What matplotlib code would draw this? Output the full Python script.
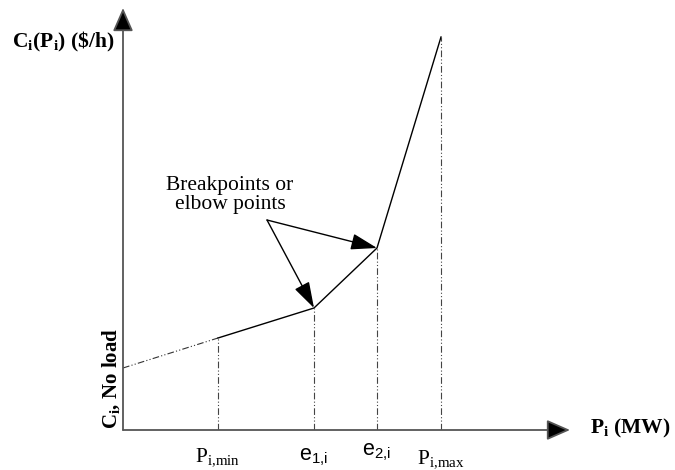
import matplotlib.pyplot as plt

plt.rcParams['mathtext.fontset'] = 'custom'
plt.rcParams['mathtext.rm'] = 'Liberation Serif'
plt.rcParams['mathtext.bf'] = 'Liberation Serif:bold'
plt.rcParams['mathtext.sf'] = 'Liberation Sans'

# Break points along the cost curve (arbitrary units)
p_noload = 0
p_min = 95
e1 = 191
e2 = 254
p_max = 318

c_noload = 62
c_min = 92
c_e1 = 122
c_e2 = 182
c_max = 393

curve_x = [p_min, e1, e2, p_max]
curve_y = [c_min, c_e1, c_e2, c_max]

tick_x = [p_min, e1, e2, p_max]
tick_labels = [r'P$_{\mathrm{i{,}min}}$', r'$\mathsf{e}_{\mathsf{1{,}i}}$',
               r'$\mathsf{e}_{\mathsf{2{,}i}}$', r'P$_{\mathrm{i{,}max}}$']
tick_offset = [-28, -27, -22, -30]

fig = plt.figure(figsize=(6.75, 4.7), dpi=100)
ax = fig.add_axes([123 / 675, 40 / 470, 447 / 675, 422 / 470])
ax.set_xlim(0, 447)
ax.set_ylim(0, 422)
ax.axis('off')

# axes with arrow heads
for tip in [(1, 0), (0, 1)]:
    ax.annotate('', xy=tip, xytext=(0, 0), xycoords='axes fraction',
                arrowprops=dict(arrowstyle='-|>,head_length=0.8,head_width=0.35',
                                lw=1.3, mutation_scale=18, fc='black',
                                ec='#555555', shrinkA=0, shrinkB=0))

# extrapolated part down to no-load cost
ax.plot([p_noload, p_min], [c_noload, c_min], color='#333333', lw=0.8,
        linestyle=(0, (6, 2, 1, 2, 1, 2)))
ax.plot(curve_x, curve_y, color='black', lw=1)

# vertical guide lines
for x, y in zip(curve_x, curve_y):
    ax.plot([x, x], [0, y], color='#444444', lw=0.8,
            linestyle=(0, (6, 2, 1, 2, 1, 2)))

for x, lab, off in zip(tick_x, tick_labels, tick_offset):
    ax.text(x, off, lab, ha='center', va='center', fontsize=15.5,
            family='Liberation Serif')

ax.text(467, 2, r'P$_\mathbf{i}$ (MW)', ha='left', va='center', fontsize=15.5,
        family='Liberation Serif', fontweight='bold')
ax.text(-111, 388, r'C$_\mathbf{i}$(P$_\mathbf{i}$) (\$/h)', ha='left',
        va='center', fontsize=15.5, family='Liberation Serif', fontweight='bold')
ax.text(-11, 52, r'C$_\mathbf{i}$, No load', ha='center', va='center',
        rotation=90, fontsize=15, family='Liberation Serif', fontweight='bold')

# annotation arrows
txt_xy = (107, 235)
start = (144, 210)
for pt in [(e1, c_e1), (e2, c_e2)]:
    ax.annotate('', xy=pt, xytext=start,
                arrowprops=dict(arrowstyle='-|>,head_length=0.9,head_width=0.28',
                                color='black', lw=1, mutation_scale=18,
                                shrinkA=0, shrinkB=0))
ax.text(txt_xy[0], txt_xy[1], 'Breakpoints or\nelbow points', ha='center',
        va='center', fontsize=15.5, family='Liberation Serif', linespacing=1.05)

fig.savefig('out.png', dpi=100)
